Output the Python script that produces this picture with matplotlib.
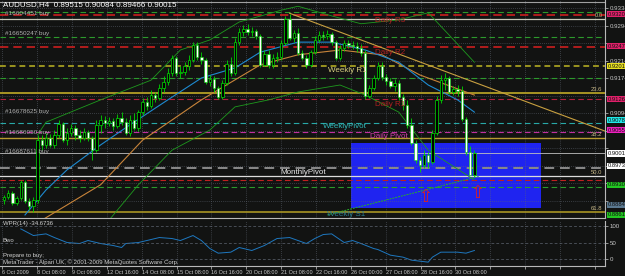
import numpy as np
import matplotlib
matplotlib.use('Agg')
import matplotlib.pyplot as plt
from matplotlib.patches import Rectangle
from matplotlib.transforms import blended_transform_factory

plt.rcParams['font.family'] = ['Liberation Sans', 'DejaVu Sans']

# ---------------- data ----------------
opens = [0.8895, 0.8902, 0.8911, 0.8888, 0.8900, 0.8936, 0.8893, 0.8881, 0.8895, 0.9032,
         0.9021, 0.9037, 0.9021, 0.9044, 0.9069, 0.9032, 0.9048, 0.9060, 0.9044, 0.9037,
         0.9050, 0.9037, 0.9009, 0.9067, 0.9078, 0.9071, 0.9076, 0.9064, 0.9083, 0.9073,
         0.9048, 0.9078, 0.9060, 0.9096, 0.9119, 0.9110, 0.9135, 0.9128, 0.9151, 0.9164,
         0.9185, 0.9220, 0.9185, 0.9188, 0.9201, 0.9215, 0.9249, 0.9222, 0.9215, 0.9164,
         0.9171, 0.9151, 0.9131, 0.9162, 0.9206, 0.9185, 0.9256, 0.9279, 0.9286, 0.9279,
         0.9281, 0.9270, 0.9204, 0.9229, 0.9204, 0.9220, 0.9222, 0.9254, 0.9309, 0.9265,
         0.9277, 0.9231, 0.9220, 0.9204, 0.9233, 0.9261, 0.9272, 0.9270, 0.9274, 0.9256,
         0.9220, 0.9243, 0.9254, 0.9249, 0.9247, 0.9243, 0.9231, 0.9133, 0.9151, 0.9174,
         0.9201, 0.9176, 0.9167, 0.9155, 0.9162, 0.9131, 0.9112, 0.9067, 0.9025, 0.8987,
         0.8975, 0.8998, 0.8982, 0.9048, 0.9124, 0.9169, 0.9174, 0.9142, 0.9149, 0.9144,
         0.9081, 0.9005, 0.89515]
highs = [0.8907, 0.8918, 0.8916, 0.8904, 0.8941, 0.8941, 0.8900, 0.8902, 0.9044, 0.9044,
         0.9048, 0.9046, 0.9055, 0.9078, 0.9073, 0.9060, 0.9069, 0.9067, 0.9055, 0.9060,
         0.9055, 0.9041, 0.9078, 0.9090, 0.9087, 0.9085, 0.9083, 0.9092, 0.9096, 0.9083,
         0.9090, 0.9094, 0.9101, 0.9129, 0.9131, 0.9147, 0.9142, 0.9160, 0.9178, 0.9197,
         0.9227, 0.9224, 0.9201, 0.9210, 0.9227, 0.9256, 0.9256, 0.9233, 0.9220, 0.9181,
         0.9178, 0.9155, 0.9169, 0.9215, 0.9222, 0.9265, 0.9288, 0.9295, 0.9297, 0.9290,
         0.9286, 0.9274, 0.9238, 0.9238, 0.9229, 0.9233, 0.9261, 0.9315, 0.9320, 0.9284,
         0.9288, 0.9238, 0.9227, 0.9238, 0.9270, 0.9281, 0.9281, 0.9284, 0.9279, 0.9261,
         0.9249, 0.9261, 0.9261, 0.9258, 0.9256, 0.9252, 0.9238, 0.9158, 0.9181, 0.9210,
         0.9210, 0.9183, 0.9174, 0.9171, 0.9169, 0.9138, 0.9124, 0.9083, 0.9032, 0.8993,
         0.9009, 0.9005, 0.9055, 0.9133, 0.9181, 0.9185, 0.9178, 0.9155, 0.9158, 0.9155,
         0.9085, 0.9018, 0.90084]
lows = [0.8886, 0.8897, 0.8884, 0.8884, 0.8895, 0.8888, 0.8872, 0.8867, 0.8888, 0.9009,
        0.9014, 0.9016, 0.9014, 0.9037, 0.9027, 0.9021, 0.9041, 0.9032, 0.9027, 0.9032,
        0.9030, 0.8987, 0.9005, 0.9048, 0.9060, 0.9064, 0.9055, 0.9060, 0.9067, 0.9044,
        0.9041, 0.9055, 0.9053, 0.9090, 0.9101, 0.9106, 0.9119, 0.9124, 0.9142, 0.9158,
        0.9178, 0.9178, 0.9174, 0.9181, 0.9192, 0.9210, 0.9215, 0.9206, 0.9160, 0.9155,
        0.9142, 0.9126, 0.9126, 0.9158, 0.9178, 0.9181, 0.9249, 0.9270, 0.9272, 0.9270,
        0.9263, 0.9199, 0.9201, 0.9197, 0.9197, 0.9210, 0.9215, 0.9249, 0.9261, 0.9256,
        0.9227, 0.9215, 0.9197, 0.9199, 0.9229, 0.9256, 0.9261, 0.9263, 0.9249, 0.9215,
        0.9215, 0.9236, 0.9243, 0.9240, 0.9233, 0.9224, 0.9126, 0.9128, 0.9147, 0.9169,
        0.9169, 0.9158, 0.9151, 0.9144, 0.9124, 0.9101, 0.9060, 0.9021, 0.8980, 0.8959,
        0.8968, 0.8968, 0.8977, 0.9044, 0.9117, 0.9147, 0.9138, 0.9135, 0.9133, 0.9076,
        0.8998, 0.8957, 0.89466]
closes = [0.8902, 0.8911, 0.8888, 0.8900, 0.8936, 0.8893, 0.8881, 0.8895, 0.9032, 0.9021,
          0.9037, 0.9021, 0.9044, 0.9069, 0.9032, 0.9048, 0.9060, 0.9044, 0.9037, 0.9050,
          0.9037, 0.9009, 0.9067, 0.9078, 0.9071, 0.9076, 0.9064, 0.9083, 0.9073, 0.9048,
          0.9078, 0.9060, 0.9096, 0.9119, 0.9110, 0.9135, 0.9128, 0.9151, 0.9164, 0.9185,
          0.9220, 0.9185, 0.9188, 0.9201, 0.9215, 0.9249, 0.9222, 0.9215, 0.9164, 0.9171,
          0.9151, 0.9131, 0.9162, 0.9206, 0.9185, 0.9256, 0.9279, 0.9286, 0.9279, 0.9281,
          0.9270, 0.9204, 0.9229, 0.9204, 0.9220, 0.9222, 0.9254, 0.9309, 0.9265, 0.9277,
          0.9231, 0.9220, 0.9204, 0.9233, 0.9261, 0.9272, 0.9270, 0.9274, 0.9256, 0.9220,
          0.9243, 0.9254, 0.9249, 0.9247, 0.9243, 0.9231, 0.9133, 0.9151, 0.9174, 0.9201,
          0.9176, 0.9167, 0.9155, 0.9162, 0.9131, 0.9112, 0.9067, 0.9025, 0.8987, 0.8975,
          0.8998, 0.8982, 0.9048, 0.9124, 0.9169, 0.9174, 0.9142, 0.9149, 0.9144, 0.9081,
          0.9005, 0.8952, 0.90015]

# moving average (blue), slow MA (orange), bands (green): (bar, price)
ma_fast_bars = [5, 10, 15, 23, 30, 39, 47, 55, 61, 70, 78, 86, 94, 101, 108, 112]
ma_fast_vals = [0.8861, 0.8918, 0.8964, 0.9021, 0.9067, 0.9124, 0.9174, 0.9197, 0.9233,
                0.9256, 0.9256, 0.9238, 0.9210, 0.9158, 0.9124, 0.9096]
ma_slow_bars = [9, 23, 33, 47, 61, 70, 80, 90, 99, 112]
ma_slow_vals = [0.8849, 0.8930, 0.9032, 0.9124, 0.9204, 0.9227, 0.9238, 0.9227, 0.9181, 0.9135]
band_up_bars = [8, 10, 23, 35, 42, 49, 56, 66, 70, 78, 85, 94, 101, 106, 112]
band_up_vals = [0.9044, 0.9073, 0.9124, 0.9169, 0.9238, 0.9261, 0.9302, 0.9329, 0.9338,
                0.9316, 0.9298, 0.9307, 0.9323, 0.9272, 0.9210]
band_lo_bars = [25, 32, 40, 49, 55, 63, 70, 80, 86, 94, 101, 112]
band_lo_vals = [0.8849, 0.8930, 0.9009, 0.9055, 0.9108, 0.9124, 0.9142, 0.9158, 0.9135,
                0.9096, 0.9009, 0.8941]
support_bars = [77, 113]
support_vals = [0.8861, 0.8949]
trend_bars = [68, 143]
trend_vals = [0.9322, 0.9053]

# rectangle zone and arrows
zone_bars = [82.6, 127.9]
zone_vals = [0.8877, 0.9025]
arrow_bars = [100.2, 112.6]
arrow_vals = [0.8902, 0.8911]

# horizontal levels
level_vals = [0.9348, 0.9324, 0.9318, 0.9309, 0.9267, 0.9246, 0.9201, 0.9174, 0.9140, 0.9126,
              0.9071, 0.9050, 0.9037, 0.9002, 0.8969, 0.8950, 0.8941, 0.8925, 0.8867]
fib_labels = ['0.0', '23.6', '38.2', '50.0', '61.8']
fib_vals = [0.9309, 0.9140, 0.9037, 0.8950, 0.8867]

box_vals = [0.9320, 0.9247, 0.9201, 0.9126, 0.9078, 0.9055, 0.90015, 0.8973, 0.8930, 0.8884, 0.8861]

price_ticks = [0.9334, 0.9294, 0.9254, 0.9214, 0.9174, 0.9134, 0.9094, 0.9054, 0.9014,
               0.8974, 0.8934, 0.8894]
time_labels = ['6 Oct 2009', '8 Oct 08:00', '9 Oct 08:00', '12 Oct 16:00', '14 Oct 08:00',
               '15 Oct 08:00', '16 Oct 16:00', '20 Oct 08:00', '21 Oct 08:00', '22 Oct 16:00',
               '26 Oct 00:00', '27 Oct 08:00', '28 Oct 16:00', '30 Oct 08:00']

osc_bars = [4, 7, 10, 12, 15, 18, 20, 23, 26, 28, 29, 32, 34, 37, 40, 42, 45, 47, 49, 51, 54,
            56, 59, 62, 65, 68, 72, 74, 76, 78, 81, 83, 85, 88, 89, 92, 95, 97, 101, 102, 104,
            108, 110, 112]
osc_vals = [91, 71, 76, 65, 50, 47, 56, 47, 41, 35, 47, 50, 56, 65, 62, 56, 71, 56, 32, 18, 21,
            35, 26, 41, 62, 65, 47, 62, 74, 76, 50, 56, 47, 32, 29, 12, 6, -3, -9, 6, 21,
            21, 18, 26]
osc_ticks = [100, 50, 0]

# ---------------- drawing ----------------
BG = '#121312'
W, H = 625.0, 276.0
fig = plt.figure(figsize=(6.25, 2.76), dpi=100)
fig.patch.set_facecolor(BG)

def fpos(x, y):
    return x / W, 1 - y / H

ax = fig.add_axes([0, 1 - 218 / H, 605 / W, 218 / H])
ax2 = fig.add_axes([0, 1 - 266 / H, 605 / W, 45 / H])
for a in (ax, ax2):
    a.set_facecolor(BG)
    for s in ('top', 'left'):
        a.spines[s].set_visible(False)
    for s in ('right', 'bottom'):
        a.spines[s].set_color('#b8b8b8')
        a.spines[s].set_linewidth(0.8)

xl = (-4 / 4.2, 601 / 4.2)
ax.set_xlim(*xl)
ax2.set_xlim(*xl)
ylo, yhi = 0.88540, 0.93523
ax.set_ylim(ylo, yhi)
px_per_price = 218 / (yhi - ylo)

n = len(closes)
x = np.arange(n)
grid_pos = np.arange(18) * 8.3 - 0.4

# grid + price ticks (labels hidden where a coloured price box covers them)
gkw = dict(color='#5d6470', lw=0.5, ls=(0, (1, 2)), zorder=2)
ax.set_xticks(grid_pos)
ax.set_xticklabels([])
ax.tick_params(axis='x', length=0)
ax.set_yticks(price_ticks)
tick_txt = []
for v in price_ticks:
    covered = any(abs(v - b) * px_per_price < 5.5 for b in box_vals)
    tick_txt.append('' if covered else '%.5f' % v)
ax.set_yticklabels(tick_txt)
ax.yaxis.tick_right()
ax.tick_params(axis='y', colors='#c8c8c8', labelsize=4.4, length=2, pad=1.5, width=0.5)
ax.grid(True, **gkw)

# zone
ax.add_patch(Rectangle((zone_bars[0], zone_vals[0]), zone_bars[1] - zone_bars[0],
                       zone_vals[1] - zone_vals[0], facecolor='#1f24f0', edgecolor='none', zorder=1))

# levels
lv_styles = [
    ('#a0a0a0', '-', 0.8), ('#2c9a2c', (0, (5, 3)), 0.8), ('#cc1f1f', (0, (5, 3)), 1.2),
    ('#c8c8b8', '-', 0.9), ('#2c9a2c', (0, (5, 3)), 0.8), ('#cc1f1f', (0, (5, 3)), 1.2),
    ('#9a9420', (0, (3, 2)), 1.4), ('#2c9a2c', (0, (5, 3)), 0.8), ('#a89424', '-', 1.4),
    ('#b02040', (0, (5, 3)), 0.8), ('#28a8a8', (0, (5, 3)), 0.8), ('#c030a0', (0, (5, 3)), 0.8),
    ('#b89a30', '-', 1.0), ('#c0c0c0', '-', 0.6), ('#8a8a8a', (0, (5, 3)), 1.4),
    ('#dcdcdc', '-', 0.9), ('#c02020', (0, (5, 3)), 0.8), ('#2c9a2c', (0, (5, 3)), 0.8),
    ('#a89424', '-', 1.2)]
for v, (c, ls, lw) in zip(level_vals, lv_styles):
    ax.axhline(v, color=c, ls=ls, lw=lw, zorder=3)

# fib labels
tr = blended_transform_factory(ax.transAxes, ax.transData)
for lab, v in zip(fib_labels, fib_vals):
    ax.text(0.996, v + 0.0003, lab, transform=tr, ha='right', va='bottom',
            fontsize=4.2, color='#c8b888', zorder=6)

# indicator lines
ax.plot(band_up_bars, band_up_vals, color='#1e9a1e', lw=0.6, zorder=4)
ax.plot(band_lo_bars, band_lo_vals, color='#1e9a1e', lw=0.6, zorder=4)
ax.plot(support_bars, support_vals, color='#28b028', lw=0.7, ls=(0, (2, 1)), zorder=4)
ax.plot(ma_slow_bars, ma_slow_vals, color='#c8843a', lw=0.8, zorder=4)
ax.plot(ma_fast_bars, ma_fast_vals, color='#1e8ad0', lw=0.8, zorder=4)
ax.plot(trend_bars, trend_vals, color='#c8a040', lw=0.8, zorder=4)

# candles
o = np.array(opens); h = np.array(highs); l = np.array(lows); c = np.array(closes)
ax.vlines(x, l, h, color='#00d800', lw=0.6, zorder=5)
bear = c < o
body_lo = np.minimum(o, c)
body_h = np.maximum(np.abs(c - o), 0.00005)
ax.bar(x[bear], body_h[bear], bottom=body_lo[bear], width=0.55, color='#ffffff',
       edgecolor='#00d800', linewidth=0.4, zorder=6)
ax.bar(x[~bear], body_h[~bear], bottom=body_lo[~bear], width=0.55, color='#000000',
       edgecolor='#00e000', linewidth=0.5, zorder=6)

# arrows
for b, v in zip(arrow_bars, arrow_vals):
    ax.text(b, v, '\u21e7', ha='center', va='center', fontsize=12, color='#e02020',
            family='DejaVu Sans', zorder=7)

# right axis boxes
box_colors = ['#e0206a', '#e0206a', '#e8e020', '#e0206a', '#20e8e8', '#f020c0',
              '#ffffff', '#ffffff', '#22c822', '#5a7890', '#22c822']
for v, bc in zip(box_vals, box_colors):
    ax.text(1.004, v, '%.5f' % v, transform=tr, ha='left', va='center', fontsize=4.2,
            color='#101010', clip_on=False, zorder=8,
            bbox=dict(boxstyle='square,pad=0.1', fc=bc, ec='none'))

# texts on chart
txt = [
    (3, 5, 'AUDUSD,H4  0.89515 0.90084 0.89466 0.90015', '#ffffff'),
    (5, 13, '#16604451 buy', '#b0b0b0'),
    (5, 34, '#16650247 buy', '#b0b0b0'),
    (5, 112, '#16678625 buy', '#b0b0b0'),
    (5, 133, '#16686050 buy', '#b0b0b0'),
    (5, 152, '#16687611 buy', '#b0b0b0'),
    (375, 20, 'Daily R3', '#b02020'),
    (375, 52, 'Daily R2', '#b02020'),
    (328, 71, 'Weekly R1', '#d8d080'),
    (375, 104, 'Daily R1', '#b02020'),
    (323, 127, 'WeeklyPivot', '#30b8b8'),
    (370, 136, 'Daily Pivot', '#d040a8'),
    (280, 173, 'MonthlyPivot', '#e8e8e8'),
    (327, 215, 'Weekly S1', '#2a7a8a'),
]
for (px, py, s, col) in txt:
    fx, fy = fpos(px, py)
    fig.text(fx, fy, s, fontsize=5.8 if not s.startswith('#') else 4.6, color=col,
             ha='left', va='center', zorder=9)

# ---------------- lower panel ----------------
ax2.set_ylim(-20.6, 114.7)
ax2.plot(osc_bars, osc_vals, color='#1e78c0', lw=0.7)
ax2.set_yticks(osc_ticks)
ax2.yaxis.tick_right()
ax2.tick_params(axis='y', colors='#c8c8c8', labelsize=4.4, length=2, pad=1.5, width=0.5)
for v in osc_ticks:
    ax2.axhline(v, color='#5d6470', lw=0.5, ls=(0, (4, 3)))
ax2.set_xticks(grid_pos)
ax2.set_xticklabels(time_labels + [''] * (len(grid_pos) - len(time_labels)))
for t in ax2.get_xticklabels():
    t.set_ha('left')
ax2.tick_params(axis='x', colors='#c8c8c8', labelsize=4.0, length=2, pad=1, width=0.5)
ax2.grid(True, axis='x', **gkw)

for (px, py, s) in [(3, 224, 'WPR(14) -34.6736'), (3, 240, 'Bwo'), (3, 256, 'Prepare to buy;'),
                    (3, 262, 'MetaTrader - Alpari UK, \u00a9 2001-2009 MetaQuotes Software Corp.')]:
    fx, fy = fpos(px, py)
    fig.text(fx, fy, s, fontsize=4.3, color='#d0d0d0', ha='left', va='center')

fig.savefig('out.png', dpi=100, facecolor=BG)
